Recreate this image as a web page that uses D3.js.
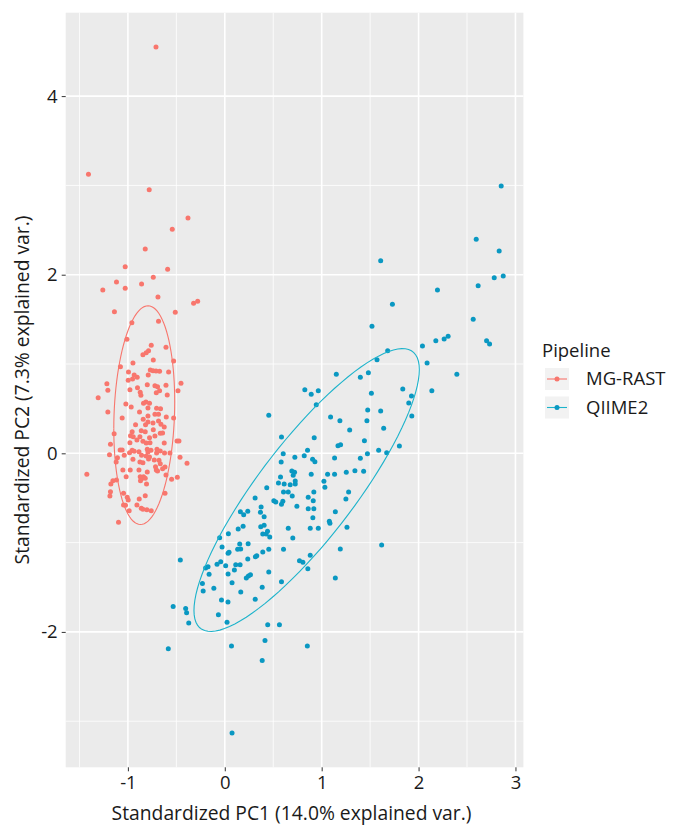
<!DOCTYPE html>
<html>
<head>
<meta charset="utf-8">
<script src="https://cdn.jsdelivr.net/npm/d3@7"></script>
<style>
  html, body { margin: 0; padding: 0; background: #fff; }
  svg text { font-family: "Open Sans", "Noto Sans", sans-serif; }
</style>
</head>
<body>
<svg id="chart" width="683" height="825"></svg>
<script>
// Pipelines shown in the legend, in legend order
const groups = ["MG-RAST", "QIIME2"];
const groupColors = ["#F8766D", "#0A98C2"];
const ellipseColors = ["#F8766D", "#1CB3CB"];

// Standardized PC scores per sample, MG-RAST pipeline
const mgrastPC1 = [
  -0.710,-1.407,-0.780,-0.380,-0.542,-0.821,-1.028,-0.590,-0.738,-1.118,
  -0.859,-1.028,-1.259,-0.690,-0.280,-0.322,-1.139,-0.511,-0.684,-0.959,
  -1.010,-0.759,-0.607,-0.787,-0.811,-0.845,-0.738,-0.948,-0.528,-1.077,
  -0.769,-0.741,-0.710,-0.673,-0.580,-0.994,-0.790,-0.935,-0.904,-0.952,
  -0.997,-0.452,-1.217,-0.800,-0.721,-0.694,-0.607,-0.901,-0.979,-1.207,
  -0.673,-0.707,-0.483,-0.873,-0.866,-1.307,-0.594,-0.814,-0.839,-1.021,
  -0.777,-0.966,-0.793,-0.704,-0.663,-1.207,-0.880,-0.721,-0.684,-0.793,
  -0.604,-0.528,-1.059,-0.842,-0.793,-0.684,-0.741,-0.818,-0.921,-0.659,
  -0.625,-0.738,-0.821,-0.862,-0.956,-0.973,-0.666,-0.642,-1.142,-0.876,
  -0.777,-0.721,-0.907,-0.845,-0.945,-0.493,-0.473,-0.772,-0.811,-0.979,
  -0.625,-1.180,-1.080,-1.059,-0.956,-0.800,-0.762,-0.700,-0.666,-0.793,
  -0.983,-0.935,-0.886,-1.190,-0.704,-0.622,-0.566,-1.038,-0.859,-0.811,
  -0.777,-0.948,-0.845,-0.876,-1.108,-1.121,-0.787,-0.728,-0.679,-0.462,
  -0.390,-0.715,-0.642,-0.617,-0.707,-0.694,-0.666,-1.052,-0.976,-0.886,
  -1.424,-0.800,-0.607,-0.490,-0.549,-0.873,-0.839,-0.859,-0.821,-0.870,
  -1.018,-1.155,-1.176,-1.118,-0.808,-0.617,-1.180,-1.186,-1.045,-0.821,
  -1.007,-0.997,-0.883,-1.045,-1.025,-0.907,-0.862,-0.987,-0.845,-0.804,
  -0.759,-1.097
];
const mgrastPC2 = [
  4.550, 3.124, 2.952, 2.635, 2.508, 2.288, 2.090, 2.060, 1.971, 1.918,
  1.896, 1.848, 1.829, 1.750, 1.702, 1.680, 1.586, 1.579, 1.478, 1.462,
  1.277, 1.209, 1.187, 1.149, 1.127, 1.104, 1.045, 1.011, 1.034, 0.970,
  0.933, 0.925, 0.922, 0.918, 0.910, 0.910, 0.877, 0.877, 0.851, 0.832,
  0.817, 0.784, 0.779, 0.768, 0.757, 0.746, 0.761, 0.735, 0.712, 0.705,
  0.701, 0.679, 0.701, 0.683, 0.650, 0.623, 0.653, 0.574, 0.560, 0.552,
  0.560, 0.518, 0.507, 0.504, 0.499, 0.462, 0.462, 0.437, 0.437, 0.418,
  0.406, 0.395, 0.395, 0.381, 0.350, 0.362, 0.339, 0.320, 0.320, 0.325,
  0.295, 0.264, 0.242, 0.253, 0.242, 0.197, 0.224, 0.227, 0.219, 0.186,
  0.175, 0.194, 0.149, 0.134, 0.186, 0.138, 0.138, 0.119, 0.115, 0.119,
  0.115, 0.101, 0.037, 0.037, 0.034, 0.045, 0.034, 0.045, 0.026, 0.015,
  0.007, 0.022, 0.018,-0.016, 0.003, 0.003, 0.003,-0.022,-0.022,-0.030,
 -0.041,-0.067,-0.105,-0.097,-0.049,-0.097,-0.064,-0.075,-0.078,-0.045,
 -0.112,-0.150,-0.172,-0.153,-0.187,-0.198,-0.116,-0.187,-0.187,-0.187,
 -0.235,-0.209,-0.243,-0.269,-0.291,-0.262,-0.262,-0.284,-0.280,-0.307,
 -0.262,-0.307,-0.344,-0.299,-0.344,-0.448,-0.430,-0.478,-0.448,-0.475,
 -0.493,-0.523,-0.512,-0.579,-0.582,-0.579,-0.616,-0.643,-0.627,-0.632,
 -0.643,-0.773
];

// Standardized PC scores per sample, QIIME2 pipeline
const qiimePC1 = [
  2.853, 2.595, 2.832, 1.609, 2.781, 2.874, 2.615, 2.195, 1.730, 1.519,
  2.564, 2.702, 2.733, 2.040, 2.178, 2.264, 2.305, 1.681, 1.571, 2.088,
  1.151, 1.399, 1.482, 2.395, 1.513, 1.837, 2.137, 1.927, 0.826, 0.892,
  0.965, 1.899, 0.944, 0.454, 1.092, 1.188, 1.475, 1.609, 1.467, 1.930,
  1.640, 1.289, 0.585, 0.923, 1.441, 1.168, 1.195, 1.588, 1.671, 1.802,
  0.854, 0.820, 0.603, 1.472, 0.723, 0.582, 0.906, 0.930, 1.133, 1.399,
  0.692, 0.720, 0.706, 0.892, 1.061, 1.133, 1.254, 1.343, 1.433, 0.575,
  0.554, 0.613, 0.675, 0.727, 0.727, 1.023, 1.033, 0.433, 0.606, 0.655,
  0.696, 0.599, 0.919, 1.278, 1.250, 0.313, 0.506, 0.526, 0.585, 0.861,
  0.913, 0.744, 0.375, 0.368, 0.861, 0.919, 0.406, 0.909, 1.141, 1.079,
  1.085, 0.371, 0.406, 0.392, 0.427, 0.441, 0.464, 0.655, 0.882, 0.965,
  1.261, 0.702, 1.619, 0.330, 0.316, 0.392, 0.454, 0.606, 1.192, 0.882,
  0.771, 0.806, 0.857, 0.454, 1.141, 0.161, 0.237, 0.195, 0.138, 0.189,
  0.037,-0.053,-0.028, 0.154, 0.164, 0.133, 0.034, 0.044, 0.241, 0.237,
 -0.042,-0.080, 0.009, 0.113, 0.158,-0.198,-0.173,-0.162, 0.034, 0.099,
  0.244, 0.265,-0.459,-0.231,-0.113,-0.223, 0.075, 0.165,-0.034, 0.033,
 -0.066, 0.023, 0.222, 0.386, 0.314, 0.585, 0.443, 0.564, 0.415, 0.069,
  0.852, 0.386,-0.583,-0.533,-0.404,-0.394,-0.372, 0.075
];
const qiimePC2 = [
  2.993, 2.396, 2.265, 2.157, 1.966, 1.985, 1.877, 1.829, 1.669, 1.422,
  1.501, 1.261, 1.224, 1.202, 1.261, 1.280, 1.310, 1.149, 1.048, 1.011,
  0.885, 0.851, 0.903, 0.885, 0.672, 0.720, 0.701, 0.642, 0.712, 0.661,
  0.701, 0.563, 0.544, 0.426, 0.406, 0.365, 0.485, 0.474, 0.365, 0.418,
  0.280, 0.261, 0.183, 0.175, 0.141, 0.085, 0.096, 0.034, 0.007, 0.082,
  0.034,-0.027,-0.004,-0.004,-0.045,-0.097,-0.067,-0.094,-0.053,-0.056,
 -0.198,-0.213,-0.246,-0.235,-0.235,-0.235,-0.213,-0.195,-0.202,-0.265,
 -0.332,-0.344,-0.352,-0.344,-0.310,-0.314,-0.381,-0.385,-0.433,-0.433,
 -0.478,-0.538,-0.433,-0.433,-0.512,-0.501,-0.531,-0.545,-0.571,-0.493,
 -0.531,-0.594,-0.601,-0.661,-0.620,-0.620,-0.710,-0.721,-0.654,-0.761,
 -0.784,-0.822,-0.806,-0.904,-0.904,-0.873,-0.937,-0.840,-0.840,-0.840,
 -0.829,-0.948,-1.027,-1.147,-1.158,-1.105,-1.075,-1.075,-1.072,-1.142,
 -1.203,-1.221,-1.292,-1.329,-1.396,-0.654,-0.650,-0.688,-0.848,-0.817,
 -0.900,-0.945,-1.049,-1.016,-1.072,-1.075,-1.120,-1.109,-1.012,-1.184,
 -1.214,-1.243,-1.259,-1.248,-1.248,-1.284,-1.270,-1.355,-1.352,-1.307,
 -1.374,-1.359,-1.195,-1.457,-1.511,-1.542,-1.449,-1.553,-1.643,-1.665,
 -1.808,-1.893,-1.395,-1.499,-1.635,-1.438,-1.919,-1.919,-2.097,-2.159,
 -2.159,-2.321,-2.189,-1.716,-1.739,-1.785,-1.900,-3.132
];

// Axis breaks
const xTicks = [-1, 0, 1, 2, 3];
const yTicks = [-2, 0, 2, 4];
const xMinor = [-1.5, -0.5, 0.5, 1.5, 2.5];
const yMinor = [-3, -1, 1, 3];

const xTitle = "Standardized PC1 (14.0% explained var.)";
const yTitle = "Standardized PC2 (7.3% explained var.)";
const legendTitle = "Pipeline";
const ellipseProb = 0.68;

const samples = [
  mgrastPC1.map((x, i) => ({ x, y: mgrastPC2[i] })),
  qiimePC1.map((x, i) => ({ x, y: qiimePC2[i] }))
];

const svg = d3.select("#chart");
const panel = { left: 65.7, right: 523.4, top: 12.7, bottom: 767.3 };

const x = d3.scaleLinear().domain([-1.642, 3.082]).range([panel.left, panel.right]);
const y = d3.scaleLinear().domain([4.934, -3.516]).range([panel.top, panel.bottom]);

// Panel background and grid
svg.append("rect")
  .attr("x", panel.left).attr("y", panel.top)
  .attr("width", panel.right - panel.left).attr("height", panel.bottom - panel.top)
  .attr("fill", "#EBEBEB");

const grid = svg.append("g");
grid.selectAll(".xminor").data(xMinor).join("line")
  .attr("x1", d => x(d)).attr("x2", d => x(d))
  .attr("y1", panel.top).attr("y2", panel.bottom)
  .attr("stroke", "#fff").attr("stroke-width", 0.8);
grid.selectAll(".yminor").data(yMinor).join("line")
  .attr("y1", d => y(d)).attr("y2", d => y(d))
  .attr("x1", panel.left).attr("x2", panel.right)
  .attr("stroke", "#fff").attr("stroke-width", 0.8);
grid.selectAll(".xmajor").data(xTicks).join("line")
  .attr("x1", d => x(d)).attr("x2", d => x(d))
  .attr("y1", panel.top).attr("y2", panel.bottom)
  .attr("stroke", "#fff").attr("stroke-width", 1.6);
grid.selectAll(".ymajor").data(yTicks).join("line")
  .attr("y1", d => y(d)).attr("y2", d => y(d))
  .attr("x1", panel.left).attr("x2", panel.right)
  .attr("stroke", "#fff").attr("stroke-width", 1.6);

// Normal-theory ellipse from each group's covariance (Cholesky of the 2x2 matrix)
function ellipsePath(pts) {
  const n = pts.length;
  const mx = d3.mean(pts, d => d.x), my = d3.mean(pts, d => d.y);
  let sxx = 0, syy = 0, sxy = 0;
  pts.forEach(p => {
    sxx += (p.x - mx) ** 2; syy += (p.y - my) ** 2; sxy += (p.x - mx) * (p.y - my);
  });
  sxx /= n - 1; syy /= n - 1; sxy /= n - 1;
  const a = Math.sqrt(sxx), b = sxy / a, c = Math.sqrt(syy - b * b);
  const ed = Math.sqrt(-2 * Math.log(1 - ellipseProb));
  const ring = d3.range(0, 101).map(i => {
    const t = -Math.PI + 2 * Math.PI * i / 100;
    const ct = Math.cos(t), st = Math.sin(t);
    return [mx + ed * ct * a, my + ed * (ct * b + st * c)];
  });
  return d3.line().x(d => x(d[0])).y(d => y(d[1]))(ring);
}

samples.forEach((pts, gi) => {
  svg.append("g").selectAll("circle").data(pts).join("circle")
    .attr("cx", d => x(d.x)).attr("cy", d => y(d.y)).attr("r", 2.5)
    .attr("fill", groupColors[gi]);
});
samples.forEach((pts, gi) => {
  svg.append("path").attr("d", ellipsePath(pts))
    .attr("fill", "none").attr("stroke", ellipseColors[gi]).attr("stroke-width", 1.1);
});

// Axes
const xAxis = svg.append("g").attr("transform", `translate(0,${panel.bottom})`)
  .call(d3.axisBottom(x).tickValues(xTicks).tickSize(4).tickPadding(5).tickFormat(d3.format("d")));
const yAxis = svg.append("g").attr("transform", `translate(${panel.left},0)`)
  .call(d3.axisLeft(y).tickValues(yTicks).tickSize(4).tickPadding(4).tickFormat(d3.format("d")));
[xAxis, yAxis].forEach(ax => {
  ax.select(".domain").remove();
  ax.selectAll(".tick line").attr("stroke", "#333").attr("stroke-width", 1);
  ax.selectAll(".tick text").attr("fill", "#1a1a1a").attr("font-size", 18.5)
    .style("font-family", "'Open Sans', sans-serif");
});
xAxis.selectAll(".tick text").text(d => d < 0 ? "-" + Math.abs(d) : d);
yAxis.selectAll(".tick text").text(d => d < 0 ? "-" + Math.abs(d) : d);

svg.append("text")
  .attr("x", (panel.left + panel.right) / 2 - 3).attr("y", 820)
  .attr("text-anchor", "middle").attr("font-size", 19.3).attr("fill", "#1a1a1a")
  .text(xTitle);
svg.append("text")
  .attr("transform", `translate(29,${(panel.top + panel.bottom) / 2}) rotate(-90)`)
  .attr("text-anchor", "middle").attr("font-size", 19.3).attr("fill", "#1a1a1a")
  .text(yTitle);

// Legend
const legend = svg.append("g");
legend.append("text").attr("x", 542).attr("y", 357)
  .attr("font-size", 18.5).attr("fill", "#1a1a1a").text(legendTitle);
groups.forEach((g, i) => {
  const ky = 368 + i * 28.5;
  const row = legend.append("g").attr("transform", `translate(545,${ky})`);
  row.append("rect").attr("width", 24).attr("height", 22).attr("fill", "#F2F2F2");
  row.append("line").attr("x1", 2).attr("x2", 22).attr("y1", 11).attr("y2", 11)
    .attr("stroke", ellipseColors[i]).attr("stroke-width", 1.1);
  row.append("circle").attr("cx", 12).attr("cy", 11).attr("r", 2.5).attr("fill", groupColors[i]);
  row.append("text").attr("x", 41).attr("y", 11).attr("dy", "0.35em")
    .attr("font-size", 18.5).attr("fill", "#1a1a1a").text(g);
});
</script>
</body>
</html>
